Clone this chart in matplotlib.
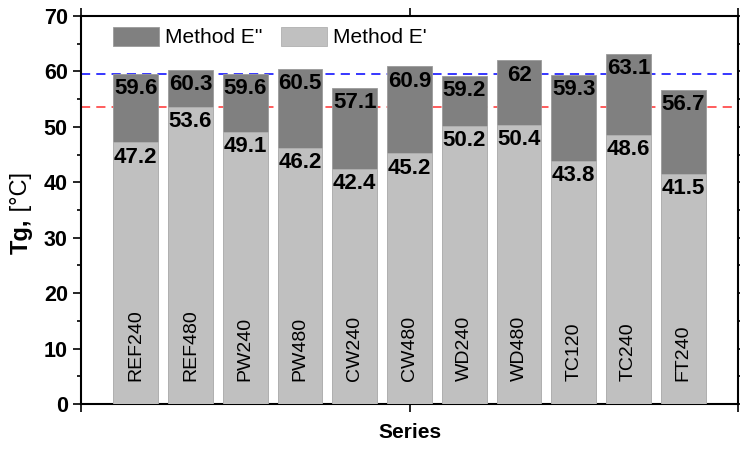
import matplotlib
matplotlib.use("Agg")
import matplotlib.pyplot as plt
from matplotlib.ticker import MultipleLocator

plt.rcParams['font.family'] = ['Liberation Sans', 'DejaVu Sans']

series = ["REF240", "REF480", "PW240", "PW480", "CW240", "CW480",
          "WD240", "WD480", "TC120", "TC240", "FT240"]
tg_e2 = [59.6, 60.3, 59.6, 60.5, 57.1, 60.9, 59.2, 62, 59.3, 63.1, 56.7]
tg_e1 = [47.2, 53.6, 49.1, 46.2, 42.4, 45.2, 50.2, 50.4, 43.8, 48.6, 41.5]
ref_lines = [(59.6, "#0000ff"), (53.6, "#ff3030")]

fig = plt.figure(figsize=(7.4, 4.5), dpi=100)
ax = fig.add_axes([81 / 740, 46 / 450, 657 / 740, 388 / 450])

x = list(range(len(series)))

for val, col in ref_lines:
    ax.axhline(val, color=col, ls=(0, (6, 4)), lw=1.1, zorder=1)

ax.bar(x, tg_e2, width=0.82, color="#808080", edgecolor="#9a9a9a", lw=0.6,
       label="Method E''", zorder=2)
ax.bar(x, tg_e1, width=0.82, color="#c0c0c0", edgecolor="#b0b0b0", lw=0.6,
       label="Method E'", zorder=3)

# value labels just under the top of each bar
for xi, v2, v1 in zip(x, tg_e2, tg_e1):
    for v in (v2, v1):
        ax.annotate(f"{v:g}", (xi, v), xytext=(0, -3), textcoords="offset points",
                    ha="center", va="top", fontsize=16, fontweight="bold", zorder=5)

# series names written up inside the bars
for xi, name in zip(x, series):
    ax.text(xi, 4.1, name, rotation=90, ha="center", va="bottom", fontsize=14, zorder=5)

ax.set_xlim(-1, 11)
ax.set_ylim(0, 70)
ax.set_xticks([-1, 5, 11])
ax.set_xticklabels([])
ax.yaxis.set_major_locator(MultipleLocator(10))
ax.yaxis.set_minor_locator(MultipleLocator(5))
ax.tick_params(axis="both", which="major", direction="out", length=6, width=1.2,
               top=True, right=True, labelsize=15.5)
ax.tick_params(axis="y", which="minor", direction="out", length=3, width=1.2, right=True)
for lab in ax.get_yticklabels():
    lab.set_fontweight("bold")
for sp in ax.spines.values():
    sp.set_linewidth(1.5)

fig.text(410 / 740, 1 - 433 / 450, "Series", ha="center", va="center",
         fontsize=15, fontweight="bold")

t1 = fig.text(21 / 740, 1 - 236 / 450, "Tg,", rotation=90,
              ha="center", va="center", fontsize=17, fontweight="bold")
ax.annotate(" [°C]", xy=(0.5, 1), xycoords=t1, rotation=90,
            ha="center", va="bottom", fontsize=17)

ax.legend(loc="upper left", bbox_to_anchor=(0.02, 1.02), ncol=2, frameon=False,
          fontsize=15, handlelength=2.2, handleheight=1.0, handletextpad=0.3,
          columnspacing=0.9)

fig.savefig("out.png", dpi=100)
